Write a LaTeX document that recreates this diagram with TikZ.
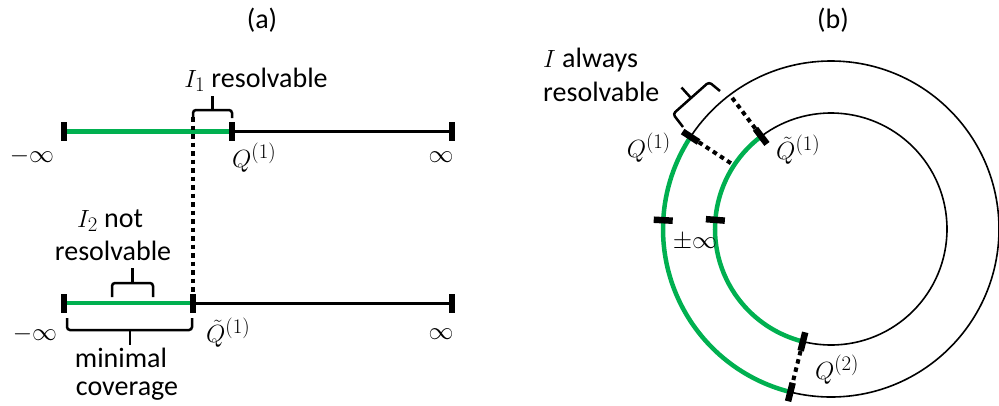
\documentclass[tikz,border=0pt]{standalone}
\usepackage{fontspec}
\setmainfont{Carlito}
\usetikzlibrary{calc}
\definecolor{ogreen}{RGB}{0,176,80}
\begin{document}
\begin{tikzpicture}[x=1pt,y=-1pt,
  every node/.style={font=\fontsize{28}{32}\selectfont, inner sep=0pt},
  blackline/.style={line width=3pt},
  greenline/.style={line width=4.5pt, draw=ogreen},
  thincircle/.style={line width=1.6pt},
  tickmark/.style={rectangle, fill=black, minimum width=6.5pt, minimum height=19pt, inner sep=0pt},
  dotline/.style={line width=4pt, dash pattern=on 4.5pt off 4pt},
  sqbrace/.style={line width=2.5pt, rounded corners=3pt}]
\useasboundingbox (0,0) rectangle (999,405);

% ---------------- (a) ----------------
\coordinate (aL1) at (64,131.5);
\coordinate (aQ1) at (232,131.5);
\coordinate (aR1) at (452,131.5);
\coordinate (aL2) at (64,303);
\coordinate (aQ2) at (193,303);
\coordinate (aR2) at (452,303);
\coordinate (dtop) at (193,117);
\draw[greenline] (aL1) -- (aQ1);
\draw[blackline] (aQ1) -- (aR1);
\draw[greenline] (aL2) -- (aQ2);
\draw[blackline] (aQ2) -- (aR2);
\node[tickmark] (tL1) at (aL1) {};
\node[tickmark] (tQ1) at (aQ1) {};
\node[tickmark] (tR1) at (aR1) {};
\node[tickmark] (tL2) at (aL2) {};
\node[tickmark] (tQ2) at (aQ2) {};
\node[tickmark] (tR2) at (aR2) {};
\draw[dotline] (dtop) -- (tQ2);

% braces (a)
\draw[sqbrace] (193,118) -- (193,110) -- (232,110) -- (232,118);
\draw[sqbrace] (212.5,110) -- (212.5,96);
\draw[sqbrace] (112,297) -- (112,283) -- (153,283) -- (153,297);
\draw[sqbrace] (132.5,283) -- (132.5,268);
\draw[sqbrace] (67,318) -- (67,330) -- (192,330) -- (192,318);
\draw[sqbrace] (130,330) -- (130,345);

% labels (a)
\node (la) at (262,20) {(a)};
\node[anchor=base] (I1) at (256,87) {$I_1$ resolvable};
\node (mi1) at (32,156) {$-\infty$};
\node[anchor=west] (q1a) at (232,158) {$Q^{(1)}$};
\node (in1) at (441,157) {$\infty$};
\node[anchor=base] (I2a) at (110,227) {$I_2$ not};
\node[anchor=base] (I2b) at (113,260) {resolvable};
\node[anchor=base] (mc1) at (121,367) {minimal};
\node[anchor=base] (mc2) at (127,395) {coverage};
\node (mi2) at (35,334) {$-\infty$};
\node[anchor=west] (qt1a) at (206,333) {$\tilde{Q}^{(1)}$};
\node (in2) at (441,334) {$\infty$};

% ---------------- (b) ----------------
\coordinate (oc) at (831,229);
\draw[thincircle] (oc) circle[radius=168pt];
\draw[thincircle] (oc) circle[radius=116pt];
\draw[greenline] ($(oc)+(146.7:168pt)$) arc[start angle=146.7, end angle=256, radius=168pt];
\draw[greenline] ($(oc)+(127:116pt)$) arc[start angle=127, end angle=256, radius=116pt];

\coordinate (bQ1) at ($(oc)+(146.7:168pt)$);
\coordinate (bQ1in) at ($(oc)+(146.7:116pt)$);
\coordinate (bQt) at ($(oc)+(127:116pt)$);
\coordinate (bQtout) at ($(oc)+(127:168pt)$);
\coordinate (bQ2in) at ($(oc)+(256:116pt)$);
\coordinate (bQ2out) at ($(oc)+(256:168pt)$);
\coordinate (binfo) at ($(oc)+(177:168pt)$);
\coordinate (binfi) at ($(oc)+(175.5:116pt)$);

\node[tickmark, rotate=56.7] (tbQ1) at (bQ1) {};
\node[tickmark, rotate=37] (tbQt) at (bQt) {};
\node[tickmark, rotate=166] (tbQ2in) at (bQ2in) {};
\node[tickmark, rotate=166] (tbQ2out) at (bQ2out) {};
\node[tickmark, rotate=87] (tbinfo) at (binfo) {};
\node[tickmark, rotate=85.5] (tbinfi) at (binfi) {};

\draw[dotline] (tbQ1) -- (bQ1in);
\draw[dotline] (tbQt) -- (bQtout);
\draw[dotline] (tbQ2in) -- (tbQ2out);

% brace (b)
\draw[sqbrace] (683,127) -- (673,114) -- (709,82) -- (720,91);
\draw[sqbrace] (691,98) -- (681.5,87.5);

% labels (b)
\node (lb) at (833,20) {(b)};
\node[anchor=base west] (Ia) at (543,67) {$I$ always};
\node[anchor=base west] (Ib) at (543,101) {resolvable};
\node[anchor=east] (q1b) at (671,148) {$Q^{(1)}$};
\node[anchor=west] (qtb) at (776,150) {$\tilde{Q}^{(1)}$};
\node (pm) at (695,242) {$\pm\infty$};
\node (q2b) at (837,370) {$Q^{(2)}$};
\end{tikzpicture}
\end{document}
